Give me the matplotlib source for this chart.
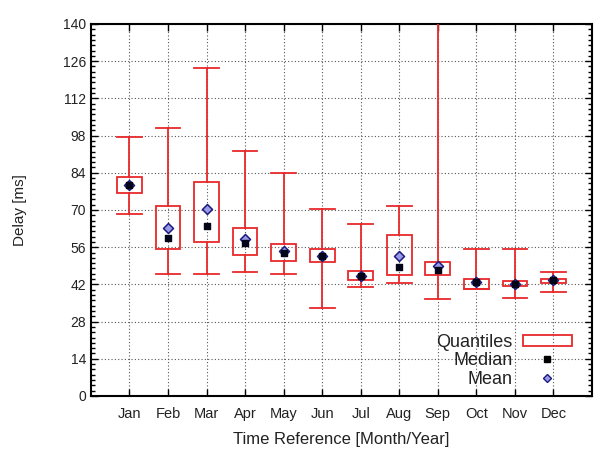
import numpy as np
import matplotlib.pyplot as plt
from matplotlib.patches import Rectangle
from matplotlib.lines import Line2D

plt.rcParams['font.family'] = ['Liberation Sans', 'DejaVu Sans']

months = ["Jan", "Feb", "Mar", "Apr", "May", "Jun",
          "Jul", "Aug", "Sep", "Oct", "Nov", "Dec"]

# whisker bottom / box bottom / box top / whisker top (ms)
whisker_low = [68.5, 45.9, 45.9, 46.5, 45.8, 33.2, 40.9, 42.4, 36.4, 40.4, 36.9, 39.1]
box_low = [76.5, 55.2, 57.8, 53.2, 50.9, 50.5, 43.5, 45.7, 45.4, 40.4, 41.3, 42.5]
box_high = [82.3, 71.5, 80.4, 63.2, 57.1, 55.2, 47.2, 60.6, 50.3, 44.2, 43.1, 44.2]
whisker_high = [97.6, 100.7, 123.4, 92.2, 83.9, 70.2, 64.7, 71.5, 160.0, 55.4, 55.4, 46.5]
medians = [79.4, 59.5, 63.9, 57.7, 53.9, 52.7, 45.3, 48.7, 47.4, 43.0, 42.2, 43.5]
means = [79.4, 63.1, 70.3, 59.0, 54.7, 52.7, 45.3, 52.7, 48.9, 43.0, 42.2, 43.5]

red = '#e8292b'
box_w = 0.64

fig = plt.figure(figsize=(5.98, 4.61), dpi=100)
ax = fig.add_axes([0.152, 0.141, 0.838, 0.807])

x = np.arange(1, len(months) + 1)

for xi, wl, bl, bh, wh in zip(x, whisker_low, box_low, box_high, whisker_high):
    ax.plot([xi, xi], [wl, bl], color=red, lw=1.3, zorder=3)
    ax.plot([xi, xi], [bh, wh], color=red, lw=1.3, zorder=3)
    ax.plot([xi - box_w / 2, xi + box_w / 2], [wl, wl], color=red, lw=1.3, zorder=3)
    ax.plot([xi - box_w / 2, xi + box_w / 2], [wh, wh], color=red, lw=1.3, zorder=3)
    ax.add_patch(Rectangle((xi - box_w / 2, bl), box_w, bh - bl, fill=False,
                           edgecolor=red, lw=1.3, zorder=3))

ax.scatter(x, means, marker='D', s=26, facecolor='#9a9ae6', edgecolor='#1a1a80',
           linewidth=1.1, zorder=4)
ax.scatter(x, medians, marker='s', s=16, color='#05051a', zorder=5)

ax.set_xlim(0, 13)
ax.set_ylim(0, 140)
ax.set_xticks(x)
ax.set_xticklabels(months, fontsize=10.5, color='#222222')
ax.set_yticks(np.arange(0, 141, 14))
ax.set_yticks(np.arange(0, 141, 2), minor=True)
ax.tick_params(axis='y', labelsize=10, labelcolor='#222222')
ax.tick_params(which='both', direction='in', top=True, right=True)
ax.tick_params(which='major', length=5, width=1)
ax.tick_params(which='minor', length=3, width=1)
ax.tick_params(axis='x', which='minor', top=False, bottom=False)
ax.tick_params(axis='x', pad=8)
ax.grid(True, which='major', color='#555555', linestyle=(0, (1, 2)), linewidth=0.8)
ax.set_axisbelow(True)
for s in ax.spines.values():
    s.set_linewidth(1.5)

ax.set_xlabel("Time Reference [Month/Year]", fontsize=12, labelpad=8, color='#222222')
ax.set_ylabel("Delay [ms]", fontsize=11, labelpad=26, color='#222222')

handles = [
    Rectangle((0, 0), 1, 1, fill=False, edgecolor=red, lw=1.3),
    Line2D([], [], marker='s', color='black', ls='none', markersize=4),
    Line2D([], [], marker='D', ls='none', markerfacecolor='#9a9ae6',
           markeredgecolor='#1a1a80', markersize=4.5),
]
leg = ax.legend(handles, ["Quantiles", "Median", "Mean"], loc='lower right',
                bbox_to_anchor=(0.985, -0.012), frameon=False, markerfirst=False,
                fontsize=13, handlelength=2.7, handleheight=0.6,
                labelspacing=0.08, borderpad=0.2, handletextpad=0.6)
for t in leg.get_texts():
    t.set_color('#222222')

plt.savefig("out.png", dpi=100)
